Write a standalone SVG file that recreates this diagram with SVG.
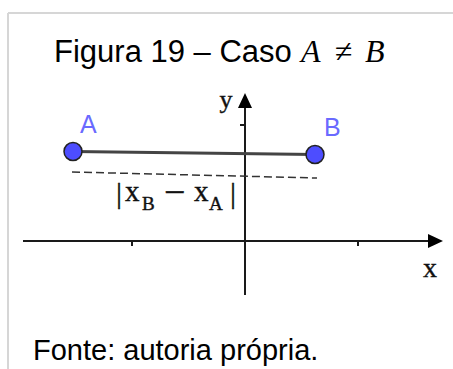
<svg xmlns="http://www.w3.org/2000/svg" width="453" height="369" viewBox="0 0 453 369">
<style>
.sans{font-family:"Liberation Sans",Arial,sans-serif;fill:#000}
.math{font-family:"Liberation Serif","Times New Roman",serif;font-style:italic;fill:#000}
.geo{font-family:"Liberation Serif","Times New Roman",serif;fill:#111;stroke:#111;stroke-width:0.4}
.lbl{font-family:"Liberation Sans",Arial,sans-serif;fill:#6a6aff;font-size:25px}
.axis{stroke:#1a1a1a;stroke-width:2;fill:none}
.pt{fill:#4d4dff;stroke:#222;stroke-width:1.5}
</style>
<rect width="453" height="369" fill="#fff"/>
<g id="frame">
<line x1="8" y1="13" x2="453" y2="13" stroke="#d6d6d6" stroke-width="2"/>
<line x1="8" y1="13" x2="8" y2="369" stroke="#d6d6d6" stroke-width="2"/>
</g>
<g id="title">
<text class="sans" x="54" y="62" font-size="31">Figura 19 – Caso</text>
<text class="math" x="301" y="62" font-size="32">A</text>
<text class="math" x="343" y="62" font-size="32" text-anchor="middle" font-style="normal">≠</text>
<text class="math" x="365" y="62" font-size="32">B</text>
</g>
<g id="connectors">
<line class="axis" x1="23" y1="241" x2="430" y2="241" stroke-width="2.5"/>
<polygon points="443,241 428,234 428,248" fill="#000"/>
<line class="axis" x1="245" y1="295" x2="245" y2="106"/>
<polygon points="245,93 238,108 252,108" fill="#000"/>
<line class="axis" x1="132" y1="241" x2="132" y2="246" stroke-width="1.5"/>
<line class="axis" x1="358" y1="241" x2="358" y2="246" stroke-width="1.5"/>
<line class="axis" x1="240" y1="125" x2="245" y2="125" stroke-width="1.5"/>
<line x1="73" y1="151.5" x2="315" y2="154.5" stroke="#444" stroke-width="3"/>
<line x1="72" y1="172" x2="317" y2="178" stroke="#333" stroke-width="1.5" stroke-dasharray="8,4"/>
</g>
<g id="axis-labels">
<text class="geo" x="226" y="108" font-size="26" text-anchor="middle">y</text>
<text class="geo" x="430" y="277" font-size="28" text-anchor="middle">x</text>
</g>
<g id="pointA">
<circle class="pt" cx="73" cy="151.5" r="9"/>
<text class="lbl" x="80" y="133">A</text>
</g>
<g id="pointB">
<circle class="pt" cx="315" cy="154.5" r="9"/>
<text class="lbl" x="324" y="136">B</text>
</g>
<g id="distance-label">
<text class="geo" x="116" y="203" font-size="30">|</text>
<text class="geo" x="125" y="201" font-size="29">x</text>
<text class="geo" x="142" y="210" font-size="19">B</text>
<text class="geo" x="164" y="205" font-size="38">−</text>
<text class="geo" x="194" y="201" font-size="29">x</text>
<text class="geo" x="209" y="210" font-size="19">A</text>
<text class="geo" x="230" y="203" font-size="30">|</text>
</g>
<g id="source">
<text class="sans" x="33" y="360" font-size="29">Fonte: autoria própria.</text>
</g>
</svg>
